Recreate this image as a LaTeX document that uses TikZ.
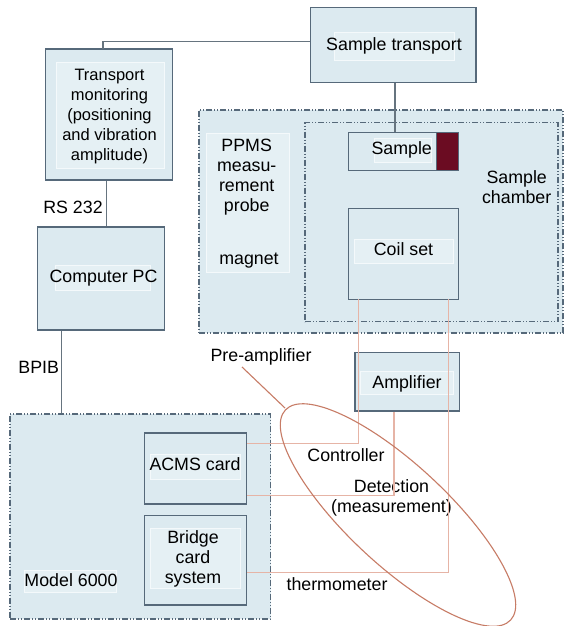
\documentclass[tikz,border=0pt]{standalone}
\usepackage{fontspec}
\setmainfont{Liberation Sans}
\usetikzlibrary{fit}
\definecolor{boxfill}{HTML}{DCEAF0}
\definecolor{innerfill}{HTML}{E5F0F4}
\definecolor{innerline}{HTML}{F4F9FB}
\definecolor{boxedge}{HTML}{56697A}
\definecolor{wire}{HTML}{66747F}
\definecolor{pinkwire}{HTML}{E6B4A6}
\definecolor{ellcol}{HTML}{C77C66}
\definecolor{samplered}{HTML}{6B0C22}
\tikzset{
  txt/.style={font=\fontsize{17.8}{20}\selectfont, align=center, inner sep=0pt},
  smalltxt/.style={font=\fontsize{16.5}{20}\selectfont, align=center, inner sep=0pt},
  box/.style={draw=boxedge, fill=boxfill, line width=1.1pt, inner sep=0pt},
  thinbox/.style={draw=boxedge, fill=boxfill, line width=0.9pt, inner sep=0pt},
  innerbox/.style={draw=innerline, fill=innerfill, line width=0.8pt, inner sep=0pt},
  dashbox/.style={draw=boxedge, fill=boxfill, line width=1.1pt, inner sep=0pt,
    dash pattern=on 6pt off 2pt on 1pt off 2pt on 1pt off 2pt},
  wireline/.style={draw=wire, line width=1.2pt},
  pinkline/.style={draw=pinkwire, line width=1.2pt},
}
\begin{document}
\begin{tikzpicture}[x=1pt,y=-1pt]
\useasboundingbox[fill=white] (0,0) rectangle (564,626);

% large dash-dot regions
\node[dashbox, fit={(199,110)(563,333)}] (ppms) {};
\node[dashbox, fit={(305,122.7)(558,321.7)}] (chamber) {};
\node[dashbox, fit={(10,414)(270.7,619)}] (model) {};

% Transport monitoring
\node[box, fit={(45.7,49)(172.7,180)}] (tm) {};
\node[innerbox, fit={(56,62)(164,168)}] (tmin) {};
\node[smalltxt] (tmtxt) at (109.5,117) {Transport\\monitoring\\(positioning\\and vibration\\amplitude)};

% Sample transport
\node[box, fit={(310.7,7.3)(476,82.7)}] (st) {};
\node[innerbox, fit={(334,32)(454,60)}] (stin) {};
\node[txt] (sttxt) at (394,45.5) {Sample transport};

% PPMS probe
\node[innerbox, fit={(206,133)(289,272.7)}] (ppin) {};
\node[txt] (pptxt) at (246.7,177.5) {PPMS\\measu-\\rement\\probe};
\node[txt] (magnet) at (249,261) {magnet};

% Sample
\node[thinbox, fit={(348,132.7)(458,170.7)}] (sample) {};
\node[innerbox, fit={(374,138)(431,162.7)}] (samplein) {};
\node[txt] (sampletxt) at (401.7,149.5) {Sample};
\node[draw=boxedge, fill=samplered, line width=0.9pt, inner sep=0pt, fit={(436.7,132.7)(458,170.7)}] (sred) {};

% Sample chamber label
\node[txt] (chtxt) at (516.7,187) {Sample\\chamber};

% Coil set
\node[thinbox, fit={(348,208)(458,299)}] (coil) {};
\node[innerbox, fit={(354,239)(453,263)}] (coilin) {};
\node[txt] (coiltxt) at (403.5,249.5) {Coil set};

% Computer
\node[box, fit={(37.7,227)(164.7,330)}] (pc) {};
\node[innerbox, fit={(55,265.7)(150,290)}] (pcin) {};
\node[txt] (pctxt) at (103.5,278.5) {Computer PC};

% ACMS
\node[box, fit={(144.3,433)(246.7,504)}] (acms) {};
\node[innerbox, fit={(150,454)(240.7,479)}] (acmsin) {};
\node[txt] (acmstxt) at (195,464.5) {ACMS card};

% Bridge
\node[box, fit={(144.3,515.7)(246.7,605)}] (bridge) {};
\node[innerbox, fit={(150,528)(240.7,588)}] (bridgein) {};
\node[txt] (bridgetxt) at (193,558.5) {Bridge\\card\\system};

% Model 6000 label
\node[innerbox, fit={(24,570)(116.7,592.7)}] (modelin) {};
\node[txt] (modeltxt) at (71,580.5) {Model 6000};

% Amplifier
\node[box, fit={(355,352.7)(459.3,411)}] (amp) {};
\node[innerbox, fit={(360.7,371.7)(453,394.3)}] (ampin) {};
\node[txt] (amptxt) at (407,383.5) {Amplifier};

% gray connectors
\coordinate (tmtop) at (103,49);
\coordinate (bend1) at (103,41.7);
\draw[wireline] (tmtop) -- (bend1) -- (bend1 -| st.west);
\draw[wireline] (st.south -| 395,0) -- (sample.north -| 395,0);
\draw[wireline] (tm.south -| 106.7,0) -- (pc.north -| 106.7,0);
\draw[wireline] (pc.south -| 61.7,0) -- (model.north -| 61.7,0);

% labels
\node[txt] (rs) at (73,207.5) {RS 232};
\node[txt] (bpib) at (38.7,367) {BPIB};
\node[txt] (pre) at (261,356.5) {Pre-amplifier};
\node[txt] (ctrl) at (346,455.5) {Controller};
\node[txt] (det) at (391.5,497.5) {Detection\\(measurement)};
\node[txt] (thermo) at (337,584.5) {thermometer};

% pink wires
\draw[pinkline] (acms.east |- 0,443.3) -- (358.5,443.3) -- (coil.south -| 358.5,0);
\draw[pinkline] (acms.east |- 0,495.7) -- (394,495.7) -- (amp.south -| 394,0);
\draw[pinkline] (bridge.east |- 0,572.7) -- (448.7,572.7) -- (coil.south -| 448.7,0);

% ellipse and pointer
\draw[ellcol, line width=1.1pt, rotate around={-43:(398,515)}] (398,515) ellipse [x radius=154, y radius=50];
\coordinate (ellpt) at (285,408);
\coordinate (prept) at (242,367);
\draw[ellcol, line width=1.1pt] (prept) -- (ellpt);
\end{tikzpicture}
\end{document}
